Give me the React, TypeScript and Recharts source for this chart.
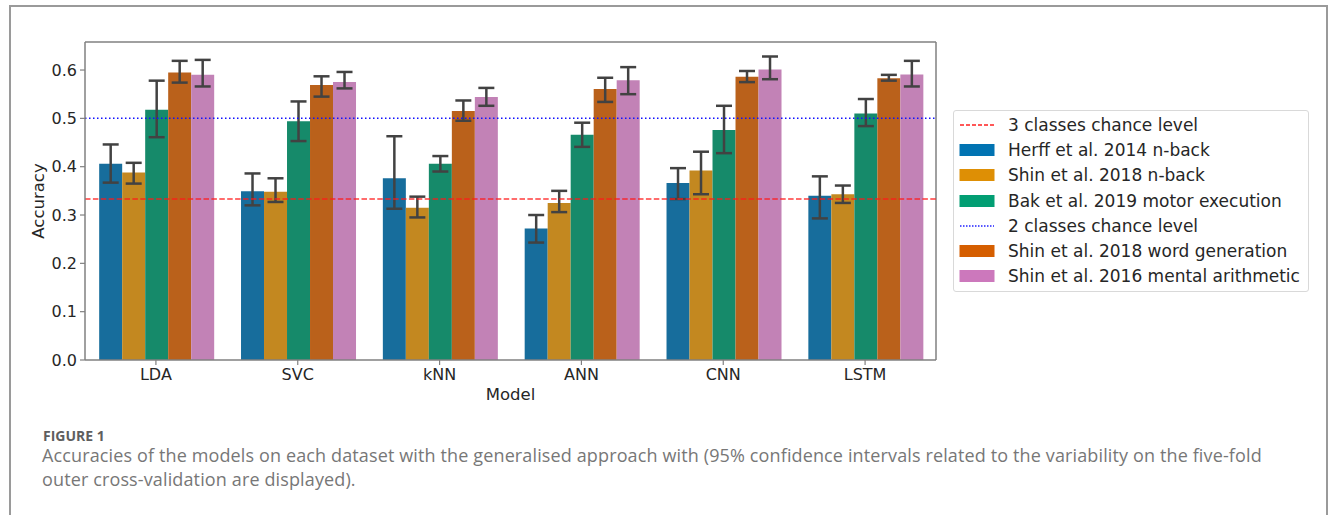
import React from 'react';
import { BarChart, Bar, XAxis, YAxis, ErrorBar, ReferenceLine, Label, CartesianGrid } from 'recharts';

// ---- data ----
const models = ['LDA', 'SVC', 'kNN', 'ANN', 'CNN', 'LSTM'];

const herff = [0.406, 0.349, 0.376, 0.272, 0.366, 0.340];
const herffLo = [0.367, 0.320, 0.313, 0.243, 0.333, 0.293];
const herffHi = [0.446, 0.386, 0.463, 0.300, 0.397, 0.380];

const shinNback = [0.388, 0.348, 0.315, 0.325, 0.392, 0.343];
const shinNbackLo = [0.365, 0.327, 0.295, 0.306, 0.343, 0.325];
const shinNbackHi = [0.408, 0.376, 0.338, 0.350, 0.431, 0.361];

const bak = [0.518, 0.494, 0.406, 0.466, 0.476, 0.510];
const bakLo = [0.461, 0.453, 0.390, 0.441, 0.428, 0.484];
const bakHi = [0.578, 0.535, 0.422, 0.491, 0.526, 0.540];

const shinWord = [0.595, 0.569, 0.515, 0.561, 0.586, 0.583];
const shinWordLo = [0.574, 0.545, 0.495, 0.534, 0.575, 0.578];
const shinWordHi = [0.619, 0.587, 0.537, 0.584, 0.598, 0.590];

const shinMath = [0.590, 0.575, 0.544, 0.579, 0.601, 0.591];
const shinMathLo = [0.566, 0.562, 0.526, 0.550, 0.581, 0.566];
const shinMathHi = [0.621, 0.596, 0.563, 0.606, 0.628, 0.619];

const yTicks = [0, 0.1, 0.2, 0.3, 0.4, 0.5, 0.6];
const chance3 = 1 / 3;
const chance2 = 0.5;

const series = [
  { key: 'herff', name: 'Herff et al. 2014 n-back', values: herff, lo: herffLo, hi: herffHi, fill: '#176d9c', legend: '#0173b2' },
  { key: 'shinNback', name: 'Shin et al. 2018 n-back', values: shinNback, lo: shinNbackLo, hi: shinNbackHi, fill: '#c38820', legend: '#de8f05' },
  { key: 'bak', name: 'Bak et al. 2019 motor execution', values: bak, lo: bakLo, hi: bakHi, fill: '#168a6a', legend: '#029e73' },
  { key: 'shinWord', name: 'Shin et al. 2018 word generation', values: shinWord, lo: shinWordLo, hi: shinWordHi, fill: '#ba611b', legend: '#d55e00' },
  { key: 'shinMath', name: 'Shin et al. 2016 mental arithmetic', values: shinMath, lo: shinMathLo, hi: shinMathHi, fill: '#c282b6', legend: '#cc78bc' },
];

const tableData = models.map((m, i) => {
  const row: any = { model: m };
  series.forEach((s) => {
    row[s.key] = s.values[i];
    row[s.key + 'Err'] = [s.values[i] - s.lo[i], s.hi[i] - s.values[i]];
  });
  return row;
});

const legendItems: any[] = [
  { type: 'line', name: '3 classes chance level', color: '#ff2020', dash: '4 2' },
  { type: 'patch', name: series[0].name, color: series[0].legend },
  { type: 'patch', name: series[1].name, color: series[1].legend },
  { type: 'patch', name: series[2].name, color: series[2].legend },
  { type: 'line', name: '2 classes chance level', color: '#2020ff', dash: '1.5 1.5' },
  { type: 'patch', name: series[3].name, color: series[3].legend },
  { type: 'patch', name: series[4].name, color: series[4].legend },
];

const FONT = "'DejaVu Sans', sans-serif";
const SPINE = '#808080';
const TXT = '#262626';

export default function App() {
  return (
    <div style={{ position: 'absolute', left: 0, top: 0, width: 1333, height: 515, overflow: 'hidden', background: '#fff' }}>
      <div style={{ position: 'absolute', left: 9, top: 5, width: 1319, height: 560, border: '2px solid #9a9a9a', boxSizing: 'border-box' }} />
      <div style={{ position: 'absolute', left: 0, top: 0 }}>
        <BarChart width={950} height={410} data={tableData} margin={{ top: 42, right: 14, left: 25, bottom: 5 }} barCategoryGap="10%" barGap={0}>
          <CartesianGrid
            stroke={SPINE}
            strokeWidth={1.5}
            fill="none"
            horizontalCoordinatesGenerator={(p: any) => [p.offset.top]}
            verticalCoordinatesGenerator={(p: any) => [p.offset.left + p.offset.width]}
          />
          <XAxis
            dataKey="model"
            height={45}
            tick={{ fontSize: 16, fill: TXT, fontFamily: FONT }}
            tickLine={{ stroke: SPINE, strokeWidth: 1.2 }}
            axisLine={{ stroke: SPINE, strokeWidth: 1.5 }}
            tickSize={5}
            tickMargin={4}
            interval={0}
          >
            <Label
              content={(p: any) => {
                const vb = p.viewBox;
                return (
                  <text x={vb.x + vb.width / 2} y={vb.y + 34} textAnchor="middle" dominantBaseline="central" fontSize={16.5} fill={TXT} fontFamily={FONT}>
                    Model
                  </text>
                );
              }}
            />
          </XAxis>
          <YAxis
            width={60}
            domain={[0, 0.658]}
            ticks={yTicks}
            tickFormatter={(v: number) => v.toFixed(1)}
            tick={{ fontSize: 16, fill: TXT, fontFamily: FONT }}
            tickLine={{ stroke: SPINE, strokeWidth: 1.2 }}
            axisLine={{ stroke: SPINE, strokeWidth: 1.5 }}
            tickSize={5}
            tickMargin={3}
            allowDataOverflow
          >
            <Label
              content={(p: any) => {
                const vb = p.viewBox;
                const x = vb.x + 13;
                const y = vb.y + vb.height / 2;
                return (
                  <text x={x} y={y} transform={`rotate(-90 ${x} ${y})`} textAnchor="middle" dominantBaseline="central" fontSize={16.5} fill={TXT} fontFamily={FONT}>
                    Accuracy
                  </text>
                );
              }}
            />
          </YAxis>
          {series.map((s) => (
            <Bar key={s.key} dataKey={s.key} name={s.name} fill={s.fill} isAnimationActive={false}>
              <ErrorBar dataKey={s.key + 'Err'} width={8} stroke="#424242" strokeWidth={2.5} direction="y" />
            </Bar>
          ))}
          <ReferenceLine y={chance3} stroke="#ff1a1a" strokeOpacity={0.85} strokeWidth={1.5} strokeDasharray="5.5 2.4" />
          <ReferenceLine y={chance2} stroke="#1010ff" strokeWidth={1.5} strokeDasharray="1.5 2.5" />
        </BarChart>
      </div>
      <div
        style={{
          position: 'absolute',
          left: 953,
          top: 110,
          width: 356,
          height: 182,
          boxSizing: 'border-box',
          border: '1px solid #d9d9d9',
          borderRadius: 3,
          background: '#fff',
          fontFamily: FONT,
          fontSize: 17,
          color: TXT,
        }}
      >
        {legendItems.map((it, i) => (
          <div key={i} style={{ position: 'absolute', left: 5, top: 14 + i * 25.2 - 12, height: 24, display: 'flex', alignItems: 'center', whiteSpace: 'nowrap' }}>
            <svg width={36} height={14} style={{ display: 'block' }}>
              {it.type === 'patch' ? (
                <rect x={0.5} y={1} width={35} height={12} fill={it.color} />
              ) : (
                <line x1={1} y1={7} x2={35} y2={7} stroke={it.color} strokeWidth={1.5} strokeDasharray={it.dash} />
              )}
            </svg>
            <span style={{ marginLeft: 13 }}>{it.name}</span>
          </div>
        ))}
      </div>
      <div style={{ position: 'absolute', left: 43, top: 426, fontFamily: "'Open Sans', sans-serif", fontSize: 14, fontWeight: 700, color: '#5e5e5e', whiteSpace: 'nowrap' }}>
        FIGURE 1
      </div>
      <div style={{ position: 'absolute', left: 42, top: 444, fontFamily: "'Open Sans', sans-serif", fontSize: 18, letterSpacing: 0.13, lineHeight: '23.5px', color: '#777', whiteSpace: 'nowrap' }}>
        Accuracies of the models on each dataset with the generalised approach with (95% confidence intervals related to the variability on the five-fold
        <br />
        outer cross-validation are displayed).
      </div>
    </div>
  );
}
